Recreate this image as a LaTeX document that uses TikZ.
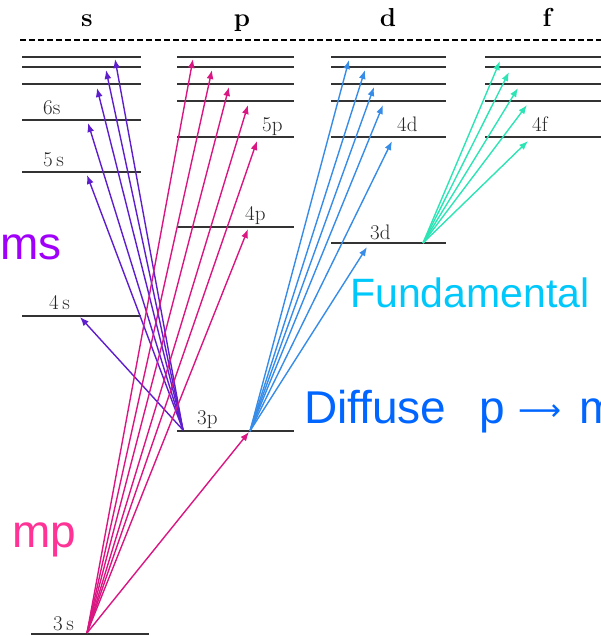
\documentclass[tikz,border=0pt]{standalone}
\usepackage{fontspec}
\newfontfamily\arialf{Liberation Sans}
\newfontfamily\dejavuf{DejaVu Sans}
\usetikzlibrary{arrows.meta}
\definecolor{scol}{RGB}{95,30,205}
\definecolor{pcol}{RGB}{218,22,130}
\definecolor{dcol}{RGB}{55,140,232}
\definecolor{fcol}{RGB}{45,228,180}
\definecolor{mscol}{RGB}{160,0,250}
\definecolor{fundcol}{RGB}{0,200,250}
\definecolor{diffcol}{RGB}{0,102,255}
\definecolor{mpcol}{RGB}{255,50,150}
\begin{document}
\begin{tikzpicture}[x=1pt,y=-1pt,
  level/.style={line width=1.5pt, draw=black!80},
  tr/.style={-{Latex[length=9pt,width=7pt]}, line width=1.4pt},
  lbl/.style={font=\fontsize{21}{21}\selectfont, anchor=base west, inner sep=0pt, text=black!85},
  hdr/.style={font=\fontsize{26}{26}\selectfont\bfseries, anchor=base, inner sep=0pt},
  big/.style={font=\arialf\fontsize{46}{46}\selectfont, anchor=base west, inner sep=0pt}]
\useasboundingbox (0,0) rectangle (601,636);
\clip (0,0) rectangle (601,636);

% headers
\node[hdr] (hs) at (87,27) {s};
\node[hdr] (hp) at (242,27) {p};
\node[hdr] (hd) at (388,27) {d};
\node[hdr] (hf) at (547,27) {f};
\coordinate (dL) at (20,40);
\coordinate (dR) at (601,40);
\draw[line width=2.2pt, dash pattern=on 6pt off 3pt] (dL) -- (dR);

% s levels
\foreach \n/\y in {a/57,b/67,c/84,6/120,5/172,4/316} {
  \coordinate (sL\n) at (22,\y); \coordinate (sR\n) at (141,\y);
  \draw[level] (sL\n) -- (sR\n);
}
% p levels
\foreach \n/\y in {a/57,b/67,c/84,e/101,5/137,4/227,3/431} {
  \coordinate (pL\n) at (177,\y); \coordinate (pR\n) at (294,\y);
  \draw[level] (pL\n) -- (pR\n);
}
% d levels
\foreach \n/\y in {a/57,b/67,c/84,e/101,4/137,3/243} {
  \coordinate (dL\n) at (331,\y); \coordinate (dR\n) at (446,\y);
  \draw[level] (dL\n) -- (dR\n);
}
% f levels
\foreach \n/\y in {a/57,b/67,c/84,e/101,4/137} {
  \coordinate (fL\n) at (485,\y); \coordinate (fR\n) at (601,\y);
  \draw[level] (fL\n) -- (fR\n);
}
% 3s level
\coordinate (sL3) at (31,634); \coordinate (sR3) at (149,634);
\draw[level] (sL3) -- (sR3);

% level labels
\node[lbl] (l6s) at (43,115) {6s};
\node[lbl] (l5s) at (43,167) {5\,s};
\node[lbl] (l4s) at (49,309) {4\,s};
\node[lbl] (l3s) at (53,630) {3\,s};
\node[lbl] (l5p) at (262,132) {5p};
\node[lbl] (l4p) at (245,220) {4p};
\node[lbl] (l3p) at (197,424) {3p};
\node[lbl] (l4d) at (397,132) {4d};
\node[lbl] (l3d) at (370,239) {3d};
\node[lbl] (l4f) at (532,132) {4f};

% origins
\coordinate (S0) at (183,430);
\coordinate (P0) at (87,633);
\coordinate (D0) at (250,431);
\coordinate (F0) at (423,243);

% s series (sharp)
\foreach \n/\x/\y in {1/80/317,2/87/175,3/88/123,4/97/88,5/106/70,6/115/59} {
  \coordinate (st\n) at (\x,\y);
  \draw[tr,scol] (S0) -- (st\n);
}
% p series (principal)
\foreach \n/\x/\y in {1/249/432,2/248/229,3/257/141,4/248/105,5/229/87,6/212/70,7/193/59} {
  \coordinate (pt\n) at (\x,\y);
  \draw[tr,pcol] (P0) -- (pt\n);
}
% d series (diffuse)
\foreach \n/\x/\y in {1/367/247,2/392/141,3/383/105,4/374/87,5/365/70,6/349/60} {
  \coordinate (dt\n) at (\x,\y);
  \draw[tr,dcol] (D0) -- (dt\n);
}
% f series (fundamental)
\foreach \n/\x/\y in {1/528/141,2/527/105,3/518/88,4/509/72,5/500/61} {
  \coordinate (ft\n) at (\x,\y);
  \draw[tr,fcol] (F0) -- (ft\n);
}

% big labels
\node[big, text=mscol] (ms) at (0,259) {ms};
\node[big, text=mpcol] (mp) at (12,547) {mp};
\node[big, text=fundcol, font=\arialf\fontsize{41}{41}\selectfont] (fund) at (350,307) {Fundamental};
\node[big, text=diffcol] (diff) at (304,423) {Diffuse};
\node[big, text=diffcol] (diffp) at (479,423) {p};
\node[big, text=diffcol, font=\dejavuf\fontsize{30}{30}\selectfont] (diffar) at (518,420) {⟶};
\node[big, text=diffcol] (diffm) at (579,423) {m};
\end{tikzpicture}
\end{document}
